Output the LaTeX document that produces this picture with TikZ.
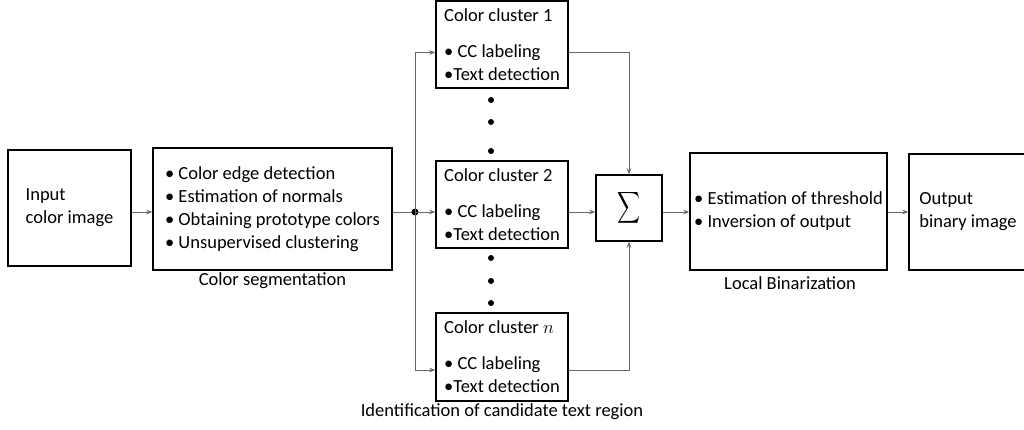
\RequirePackage{fix-cm}
\documentclass[tikz,border=0pt]{standalone}
\usepackage{fontspec}
\setmainfont{Carlito}
\usetikzlibrary{arrows.meta}

\begin{document}
\begin{tikzpicture}[x=1pt,y=-1pt,%scale=0.5,
        font=\fontsize{18.5}{23}\selectfont,
        blk/.style={draw,line width=1.4pt,inner sep=0pt,align=left},
        conn/.style={draw=black!60,line width=0.9pt},
        arr/.style={conn,-{Stealth[length=6pt,width=4.5pt]}},
        caption/.style={inner sep=0pt}]
    \clip (0,0) rectangle (1024,430);

    \node[blk,minimum width=123pt,minimum height=116pt] (input) at (69.5,208) {Input\\color image};
    \node[blk,minimum width=239pt,minimum height=122pt] (seg) at (272.5,209)
        {• Color edge detection\\• Estimation of normals\\• Obtaining prototype colors\\• Unsupervised clustering};
    \node[caption] (seglbl) at (272.5,281) {Color segmentation};

    \node[blk,minimum width=132pt,minimum height=87pt] (c1) at (502,44.5)
        {Color cluster 1\\[13pt]• CC labeling\\•Text detection};
    \node[blk,minimum width=132pt,minimum height=87pt] (c2) at (502,204.5)
        {Color cluster 2\\[13pt]• CC labeling\\•Text detection};
    \node[blk,minimum width=132pt,minimum height=88pt] (cn) at (502,357)
        {Color cluster $n$\\[13pt]• CC labeling\\•Text detection};
    \node[caption] (cclbl) at (502,412) {Identification of candidate text region};

    \node[blk,minimum width=66pt,minimum height=66pt] (sum) at (629,208)
        {\fontsize{10}{10}\selectfont\scalebox{1.6}[2.2]{$\displaystyle\sum$}};

    \node[blk,minimum width=197pt,minimum height=117pt] (lb) at (788.5,211.5)
        {• Estimation of threshold\\• Inversion of output};
    \node[caption] (lblbl) at (790,283) {Local Binarization};

    \node[blk,minimum width=118pt,minimum height=116pt] (out) at (968,212)
        {Output\\binary image};

    % splitting point
    \coordinate (jn) at (415,212);
    \foreach \y in {100,122,151,258,281,303}
        \fill (491,\y) circle (3pt);

    \draw[arr] (input.east |- jn) -- (seg.west |- jn);
    \draw[conn] (seg.east |- jn) -- (jn);
    \fill (jn) circle (3.5pt);
    \draw[arr] (jn) |- ([yshift=-8pt]c1.west);
    \draw[arr] (jn) -- (jn -| c2.west);
    \draw[arr] (jn) |- ([yshift=-13pt]cn.west);

    \draw[arr] ([yshift=-8pt]c1.east) -| (sum.north);
    \draw[arr] (jn -| c2.east) -- (jn -| sum.west);
    \draw[arr] ([yshift=-13pt]cn.east) -| (sum.south);
    \draw[arr] (jn -| sum.east) -- (jn -| lb.west);
    \draw[arr] (jn -| lb.east) -- (jn -| out.west);
\end{tikzpicture}
\end{document}
